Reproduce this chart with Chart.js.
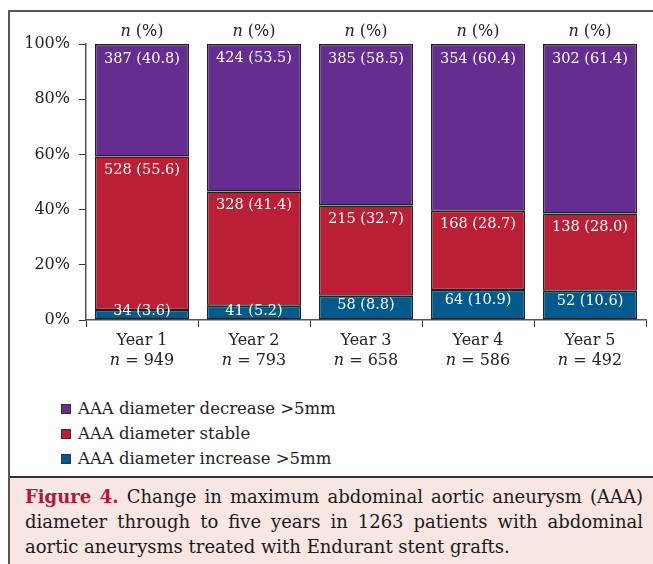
<!DOCTYPE html>
<html>
<head>
<meta charset="utf-8">
<script src="https://cdn.jsdelivr.net/npm/chart.js@4/dist/chart.umd.min.js"></script>
<style>
    html, body { margin: 0; padding: 0; background: #fff; }
    body { width: 653px; height: 564px; position: relative; overflow: hidden; font-family: 'DejaVu Serif', serif; }
    .frame { position: absolute; left: 8px; top: 10px; right: -2px; bottom: -2px; border-left: 2px solid #555; border-top: 2px solid #555; }
    #chartWrap { position: absolute; left: 0; top: 0; width: 653px; height: 390px; }
    #legend { position: absolute; left: 61px; top: 396px; font-size: 16.5px; color: #222; }
    .legend-item { height: 25px; line-height: 20px; display: flex; align-items: center; }
    .legend-box { width: 8px; height: 8px; border: 1px solid #333; margin-right: 7px; }
    .caption { position: absolute; left: 10px; top: 476px; right: 0; bottom: 0; background: #f7e6e2; border-top: 2px solid #333; padding: 6px 10px 0 15px; font-size: 18px; color: #1a1a1a; }
    .caption div { text-align: justify; text-align-last: justify; line-height: 25px; height: 25px; white-space: nowrap; }
    .caption div.last { text-align-last: left; }
    .fig { color: #b3173b; font-weight: bold; }
</style>
</head>
<body>
<div class="frame"></div>
<div id="chartWrap"><canvas id="chart" width="653" height="390"></canvas></div>
<div id="legend"></div>
<div class="caption">
    <div><span class="fig">Figure 4.</span> Change in maximum abdominal aortic aneurysm (AAA)</div>
    <div>diameter through to five years in 1263 patients with abdominal</div>
    <div class="last">aortic aneurysms treated with Endurant stent grafts.</div>
</div>
<script>
const years = ['Year 1', 'Year 2', 'Year 3', 'Year 4', 'Year 5'];
const totals = [949, 793, 658, 586, 492];

const increaseCount = [34, 41, 58, 64, 52];
const increasePct = [3.6, 5.2, 8.8, 10.9, 10.6];
const stableCount = [528, 328, 215, 168, 138];
const stablePct = [55.6, 41.4, 32.7, 28.7, 28.0];
const decreaseCount = [387, 424, 385, 354, 302];
const decreasePct = [40.8, 53.5, 58.5, 60.4, 61.4];

const yTicks = [0, 20, 40, 60, 80, 100];

const serif = 'DejaVu Serif';
const textColor = '#222';

// value labels inside each segment, n (%) headers, and second x label line
const labelPlugin = {
    id: 'segmentLabels',
    afterDatasetsDraw(chart) {
        const ctx = chart.ctx;
        ctx.save();
        ctx.textBaseline = 'middle';
        chart.data.datasets.forEach((ds, di) => {
            const meta = chart.getDatasetMeta(di);
            meta.data.forEach((bar, i) => {
                const text = `${ds.counts[i]} (${ds.data[i].toFixed(1)})`;
                let y = Math.min(bar.y + ds.labelOffset, bar.base - 8);
                ctx.font = `14.5px "${serif}"`;
                ctx.fillStyle = '#fff';
                ctx.textAlign = 'center';
                ctx.fillText(text, bar.x, y);
            });
        });

        // header n (%) above each bar
        const meta = chart.getDatasetMeta(0);
        meta.data.forEach(bar => {
            drawMixed(ctx, [['n', true], [' (%)', false]], bar.x, 32, 16);
        });

        // second line of x labels
        const xScale = chart.scales.x;
        years.forEach((y, i) => {
            const x = xScale.getPixelForTick(i);
            drawMixed(ctx, [['n', true], [' = ', false], [String(totals[i]), false]], x, 361, 16);
        });
        ctx.restore();
    }
};

function drawMixed(ctx, parts, cx, cy, size) {
    ctx.fillStyle = textColor;
    ctx.textAlign = 'left';
    ctx.textBaseline = 'middle';
    let widths = parts.map(([t, it]) => {
        ctx.font = `${it ? 'italic ' : ''}${size}px "${serif}"`;
        return ctx.measureText(t).width;
    });
    let total = widths.reduce((a, b) => a + b, 0);
    let x = cx - total / 2;
    parts.forEach(([t, it], k) => {
        ctx.font = `${it ? 'italic ' : ''}${size}px "${serif}"`;
        ctx.fillText(t, x, cy);
        x += widths[k];
    });
}

const ctx = document.getElementById('chart').getContext('2d');
const chart = new Chart(ctx, {
    type: 'bar',
    data: {
        labels: years,
        datasets: [{
            label: 'AAA diameter increase >5mm',
            data: increasePct,
            counts: increaseCount,
            labelOffset: 10,
            backgroundColor: '#005a8b'
        }, {
            label: 'AAA diameter stable',
            data: stablePct,
            counts: stableCount,
            labelOffset: 14,
            backgroundColor: '#bb1f35'
        }, {
            label: 'AAA diameter decrease >5mm',
            data: decreasePct,
            counts: decreaseCount,
            labelOffset: 15,
            backgroundColor: '#652d8f'
        }]
    },
    options: {
        responsive: false,
        animation: false,
        devicePixelRatio: 1,
        layout: { padding: { left: 0, top: 44, right: 7, bottom: 0 } },
        datasets: {
            bar: {
                borderColor: '#1f1f1f',
                borderWidth: 1.5,
                borderSkipped: false,
                barPercentage: 0.84,
                categoryPercentage: 1
            }
        },
        plugins: {
            legend: { display: false },
            tooltip: { enabled: false }
        },
        scales: {
            x: {
                stacked: true,
                afterFit: s => { s.height = 70; },
                grid: { drawOnChartArea: false, drawTicks: true, tickLength: 7, color: '#333' },
                border: { color: '#555', width: 1.5 },
                ticks: { color: textColor, font: { family: serif, size: 16 }, padding: 4 }
            },
            y: {
                stacked: true,
                min: 0,
                max: 100,
                afterFit: s => { s.width = 86; },
                afterBuildTicks: s => { s.ticks = yTicks.map(v => ({ value: v })); },
                grid: { drawOnChartArea: false, drawTicks: true, tickLength: 7, color: '#333' },
                border: { color: '#555', width: 1.5 },
                ticks: {
                    color: textColor,
                    font: { family: serif, size: 16 },
                    padding: 9,
                    callback: v => v + '%'
                }
            }
        }
    },
    plugins: [labelPlugin]
});

// html legend, top to bottom in reverse stacking order
const legend = document.getElementById('legend');
chart.data.datasets.slice().reverse().forEach(ds => {
    const item = document.createElement('div');
    item.className = 'legend-item';
    const box = document.createElement('span');
    box.className = 'legend-box';
    box.style.background = ds.backgroundColor;
    const label = document.createElement('span');
    label.textContent = ds.label;
    item.appendChild(box);
    item.appendChild(label);
    legend.appendChild(item);
});
</script>
</body>
</html>
